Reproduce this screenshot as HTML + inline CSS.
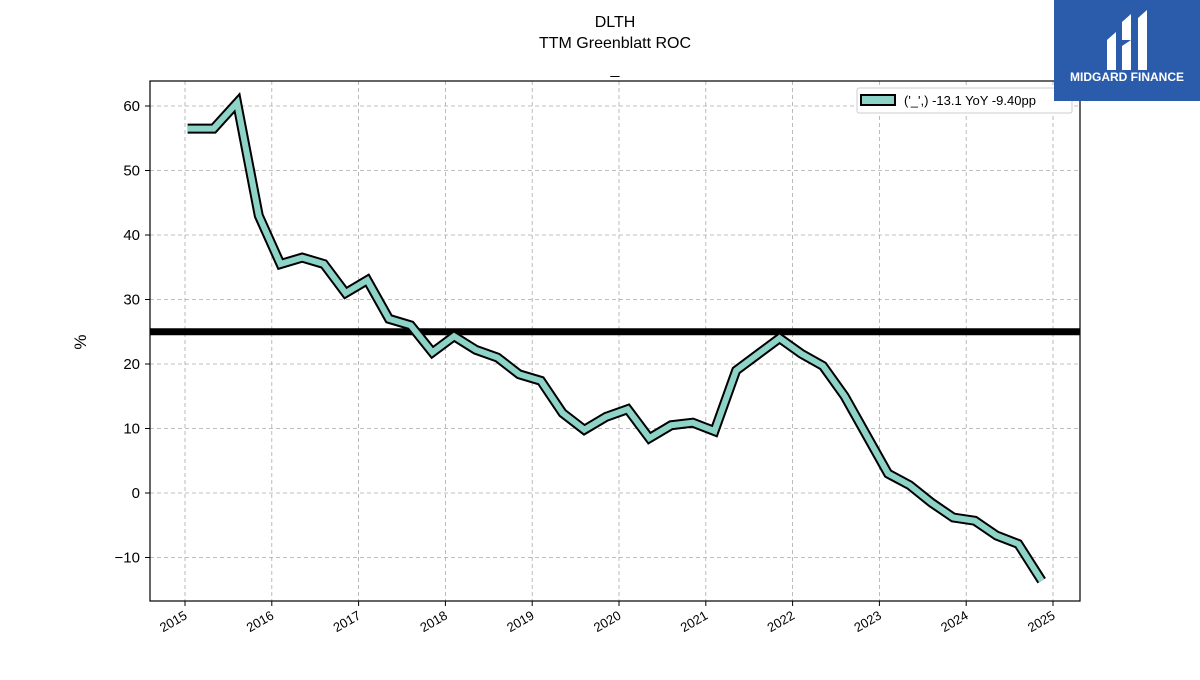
<!DOCTYPE html>
<html><head><meta charset="utf-8">
<style>
body{margin:0;background:#fff;width:1200px;height:675px;overflow:hidden;font-family:"Liberation Sans","DejaVu Sans",sans-serif;}
</style></head>
<body>
<svg width="1200" height="675" xmlns="http://www.w3.org/2000/svg">
<g id="grid"></g>
<g id="axes"></g>
<line id="refline" stroke="#000" stroke-width="7"/>
<polyline id="outline" fill="none" stroke="#000" stroke-width="10" stroke-linejoin="miter"/>
<polyline id="series" fill="none" stroke="#8dd3c7" stroke-width="6" stroke-linejoin="miter"/>
<rect x="150" y="81" width="930" height="520" fill="none" stroke="#000" stroke-width="1.2"/>
<text x="615" y="27" text-anchor="middle" font-size="16">DLTH</text>
<text x="615" y="48" text-anchor="middle" font-size="16">TTM Greenblatt ROC</text>
<text x="615" y="74" text-anchor="middle" font-size="16">_</text>
<text x="86" y="342" text-anchor="middle" font-size="17" transform="rotate(-90 86 342)">%</text>
<g>
<rect x="857" y="88" width="215" height="25" fill="#fff" stroke="#ccc" rx="2"/>
<rect x="861" y="95" width="34" height="10" fill="#8dd3c7" stroke="#000" stroke-width="2"/>
<text x="904" y="105" font-size="13">('_',) -13.1 YoY -9.40pp</text>
</g>
<g>
<rect x="1054" y="0" width="146" height="101" fill="#2b5cab"/>
<path d="M1107 40 L1116 32 L1116 70 L1107 70 Z M1122 22 L1131 14 L1131 40 L1122 40 Z M1122 46 L1131 40 L1131 70 L1122 70 Z M1138 18 L1147 10 L1147 70 L1138 70 Z" fill="#fff"/>
<text x="1127" y="81" text-anchor="middle" font-size="12" font-weight="bold" fill="#fff">MIDGARD FINANCE</text>
</g>
</svg>
<script>
const years=[2015,2016,2017,2018,2019,2020,2021,2022,2023,2024,2025];
const yTicks=[-10,0,10,20,30,40,50,60];
const dates=[2015.03,2015.33,2015.6,2015.85,2016.1,2016.35,2016.6,2016.85,2017.1,2017.35,2017.6,2017.85,2018.1,2018.35,2018.6,2018.85,2019.1,2019.35,2019.6,2019.85,2020.1,2020.35,2020.6,2020.85,2021.1,2021.35,2021.6,2021.85,2022.1,2022.35,2022.6,2022.85,2023.1,2023.35,2023.6,2023.85,2024.1,2024.35,2024.6,2024.87];
const values=[56.5,56.5,60.5,43,35.5,36.5,35.5,31,33,27,26,21.8,24.3,22.2,21,18.4,17.4,12.4,9.8,11.8,13,8.5,10.5,10.9,9.6,19,21.5,24,21.6,19.7,15,9,3,1.2,-1.5,-3.8,-4.3,-6.6,-7.9,-13.6];
const refValue=25;
const X=v=>185+(v-2015)*86.8;
const Y=v=>493-v*6.45;
const ns="http://www.w3.org/2000/svg";
const grid=document.getElementById('grid'),axes=document.getElementById('axes');
function mk(t,a,p){const e=document.createElementNS(ns,t);for(const k in a)e.setAttribute(k,a[k]);p.appendChild(e);return e;}
years.forEach(yr=>{
 const x=X(yr);
 const g=mk('line',{x1:x,x2:x,y1:81,y2:601,stroke:'#aaa','stroke-dasharray':'4,3','stroke-width':0.8},grid);
 
 
 const t=mk('line',{x1:x,x2:x,y1:601,y2:606,stroke:'#000'},axes);
 
 
 const l=mk('text',{x:x+3,y:618,'font-size':13,'text-anchor':'end',transform:`rotate(-30 ${x+3} 618)`},axes);
 l.textContent=yr;
 
 
});
yTicks.forEach(v=>{
 const y=Y(v);
 const g=mk('line',{x1:150,x2:1080,y1:y,y2:y,stroke:'#aaa','stroke-dasharray':'4,3','stroke-width':0.8},grid);
 
 
 const t=mk('line',{x1:145,x2:150,y1:y,y2:y,stroke:'#000'},axes);
 
 
 const l=mk('text',{x:140,y:y+5,'font-size':15,'text-anchor':'end'},axes);
 l.textContent=v<0?'\u2212'+(-v):v;
 
 
});
const rl=document.getElementById('refline');
rl.setAttribute('x1',150);rl.setAttribute('x2',1080);rl.setAttribute('y1',Y(refValue));rl.setAttribute('y2',Y(refValue));
const pts=dates.map((d,i)=>X(d)+','+Y(values[i])).join(' ');
document.getElementById('outline').setAttribute('points',pts);
document.getElementById('series').setAttribute('points',pts);
</script>
</body></html>
